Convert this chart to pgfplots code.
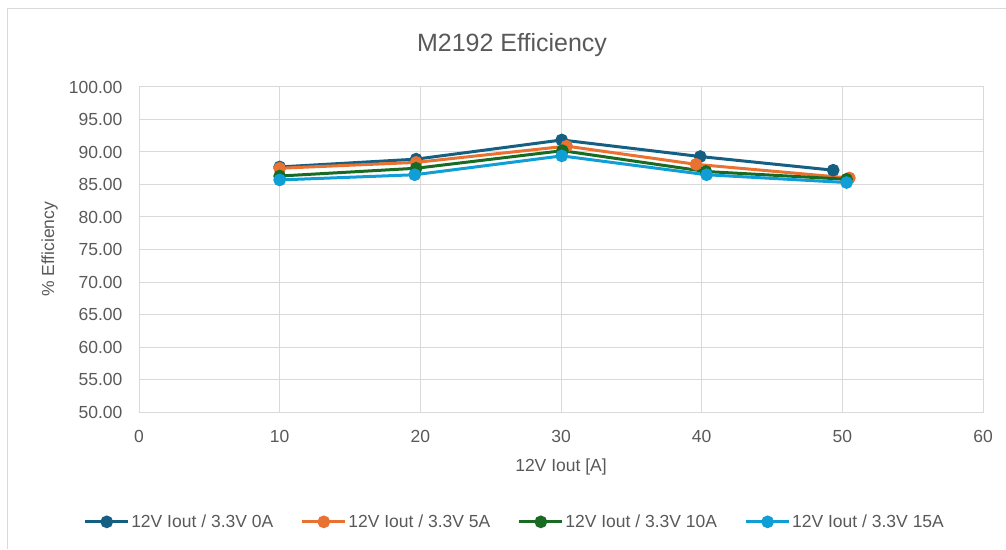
\documentclass[border=0pt]{standalone}
\usepackage{pgfplots}
\pgfplotsset{compat=1.18}
\usepackage{fontspec}
\setmainfont{Liberation Sans}
\definecolor{cA}{HTML}{156082}
\definecolor{cB}{HTML}{E97132}
\definecolor{cC}{HTML}{196B24}
\definecolor{cD}{HTML}{0F9ED5}
\definecolor{txt}{HTML}{595959}
\definecolor{gridc}{HTML}{D9D9D9}
\begin{document}
\begin{tikzpicture}[x=1pt,y=1pt]
\useasboundingbox (0,0) rectangle (1006,549);
\draw[gridc, line width=1pt] (7,0) -- (7,540) -- (1006,540);
\node[text=txt, font=\fontsize{25}{30}\selectfont] at (512,504) {M2192 Efficiency};
\begin{axis}[
  at={(139pt,137pt)}, anchor=south west,
  scale only axis, width=844pt, height=325pt,
  xmin=0, xmax=60, ymin=50, ymax=100,
  xtick={0,10,...,60}, ytick={50,55,...,100},
  grid=major, grid style={gridc, line width=1pt},
  axis line style={gridc, line width=1pt},
  major tick length=0pt,
  tick label style={text=txt, font=\fontsize{17.5}{20}\selectfont},
  /pgf/number format/assume math mode=true,
  yticklabel style={/pgf/number format/fixed, /pgf/number format/fixed zerofill, /pgf/number format/precision=2, xshift=-13pt},
  xticklabel style={/pgf/number format/fixed, /pgf/number format/precision=0, yshift=-15pt},
  xlabel={12V Iout [A]}, ylabel={\% Efficiency},
  label style={text=txt, font=\fontsize{17.5}{20}\selectfont},
  xlabel style={at={(axis description cs:0.5,-0.169)}, anchor=center},
  ylabel style={at={(axis description cs:-0.106,0.5)}, anchor=center},
  legend columns=4,
  legend style={at={(0.445,-0.338)}, anchor=center, draw=none, fill=none,
    font=\fontsize{17.5}{20}\selectfont, text=txt,
    /tikz/every even column/.append style={column sep=26pt},
    nodes={inner sep=1.5pt}},
  legend image code/.code={\draw[mark repeat=2,mark phase=2,#1] plot coordinates {(0pt,0pt)(21.5pt,0pt)(43pt,0pt)};},
  every axis plot/.append style={line width=3pt, mark=*, mark size=4.8pt, mark options={solid}},
]
\addplot[cA, mark options={fill=cA, draw=cA}] coordinates {(10,87.7)(19.7,88.9)(30.05,91.85)(39.9,89.3)(49.35,87.2)};
\addplot[cB, mark options={fill=cB, draw=cB}] coordinates {(10,87.5)(19.7,88.4)(30.4,90.9)(39.6,88.1)(50.5,86.0)};
\addplot[cC, mark options={fill=cC, draw=cC}] coordinates {(10,86.3)(19.7,87.5)(30.1,90.2)(40.3,87.0)(50.3,85.8)};
\addplot[cD, mark options={fill=cD, draw=cD}] coordinates {(10,85.7)(19.6,86.5)(30.05,89.4)(40.35,86.5)(50.3,85.3)};
\legend{12V Iout / 3.3V 0A, 12V Iout / 3.3V 5A, 12V Iout / 3.3V 10A, 12V Iout / 3.3V 15A}
\end{axis}
\end{tikzpicture}
\end{document}
